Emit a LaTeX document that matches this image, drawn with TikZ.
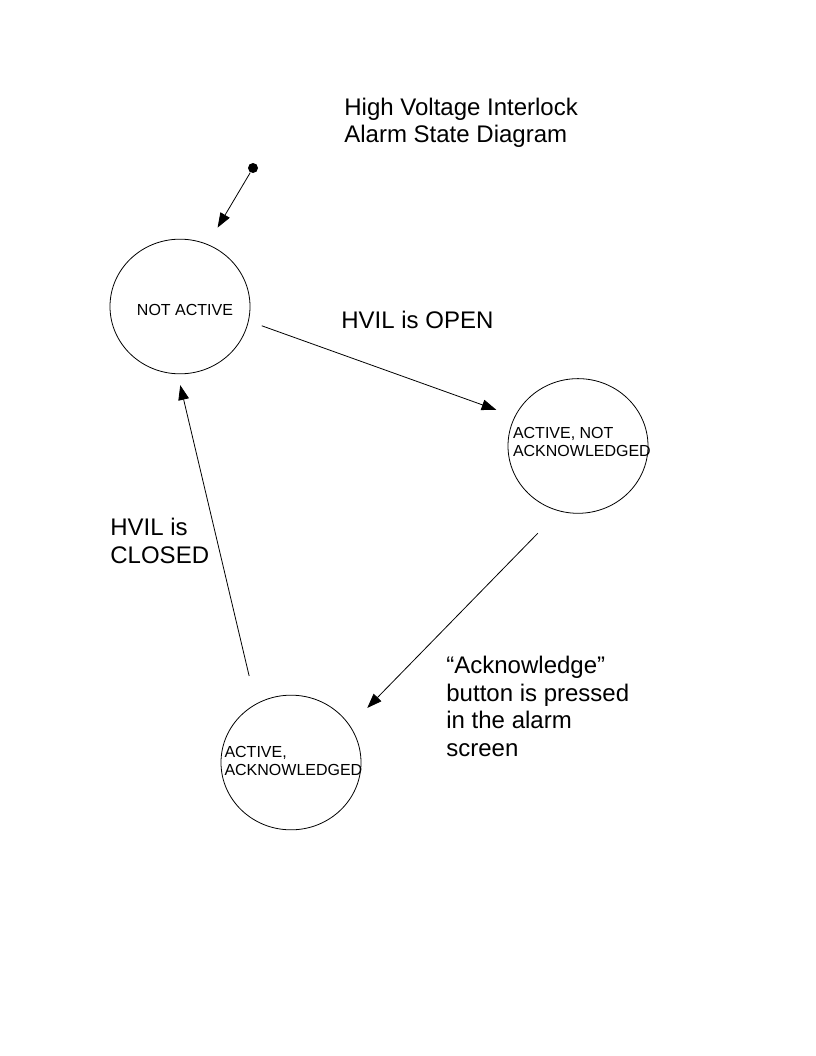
\documentclass[tikz,border=0pt]{standalone}
\usepackage{fontspec}
\setmainfont{Liberation Sans}
\usetikzlibrary{arrows.meta,positioning,shapes.geometric}

\tikzset{
  alarmstate/.style={draw,ellipse,minimum width=105pt,minimum height=101pt,inner sep=0pt},
  statetext/.style={inner sep=0pt,align=left,font=\fontsize{12pt}{13.5pt}\selectfont},
  bigtext/.style={inner sep=0pt,align=left,anchor=north west,font=\fontsize{18pt}{20.7pt}\selectfont},
}

\begin{document}
\begin{tikzpicture}[x=0.75pt,y=-0.75pt,on grid,line width=0.6pt,
  >={Triangle[length=11pt,width=8pt]}]
\useasboundingbox (0,0) rectangle (816,1056);
\node[fill,circle,inner sep=0pt,minimum size=7.5pt] (start) at (253,168) {};
\node[alarmstate] (na) at (180,306.5) {};
\node[alarmstate] (ana) [below right = 104.6pt and 298.5pt of na] {};
\node[alarmstate] (aa) [below right = 342pt and 83.25pt of na] {};
\node[statetext] (tna) at ([shift={(5,3.5)}]na) {NOT ACTIVE};
\node[statetext,anchor=north west] (tana) at ([shift={(5,-19)}]ana.west) {ACTIVE, NOT\\ACKNOWLEDGED};
\node[statetext,anchor=north west] (taa) at ([shift={(3.5,-16.5)}]aa.west) {ACTIVE,\\ACKNOWLEDGED};
\node[bigtext] (title) at (344,97.5) {High Voltage Interlock\\Alarm State Diagram};
\node[bigtext] (open) at (341,311) {HVIL is OPEN};
\node[bigtext] (closed) at (110,518) {HVIL is\\CLOSED};
\node[bigtext] (ack) at (446,656) {“Acknowledge”\\button is pressed\\in the alarm\\screen};
\path[->]
(start) edge [shorten >=14.5pt] (na.66.9)
(na.-12.5) edge [shorten <=10.4pt,shorten >=14.6pt] (ana.155.2)
(ana.-106.8) edge [shorten <=23pt,shorten >=18.5pt] (aa.32.5)
(aa.121.1) edge [shorten <=21.5pt,shorten >=8.5pt] (na.-92.2)
;
\end{tikzpicture}
\end{document}
